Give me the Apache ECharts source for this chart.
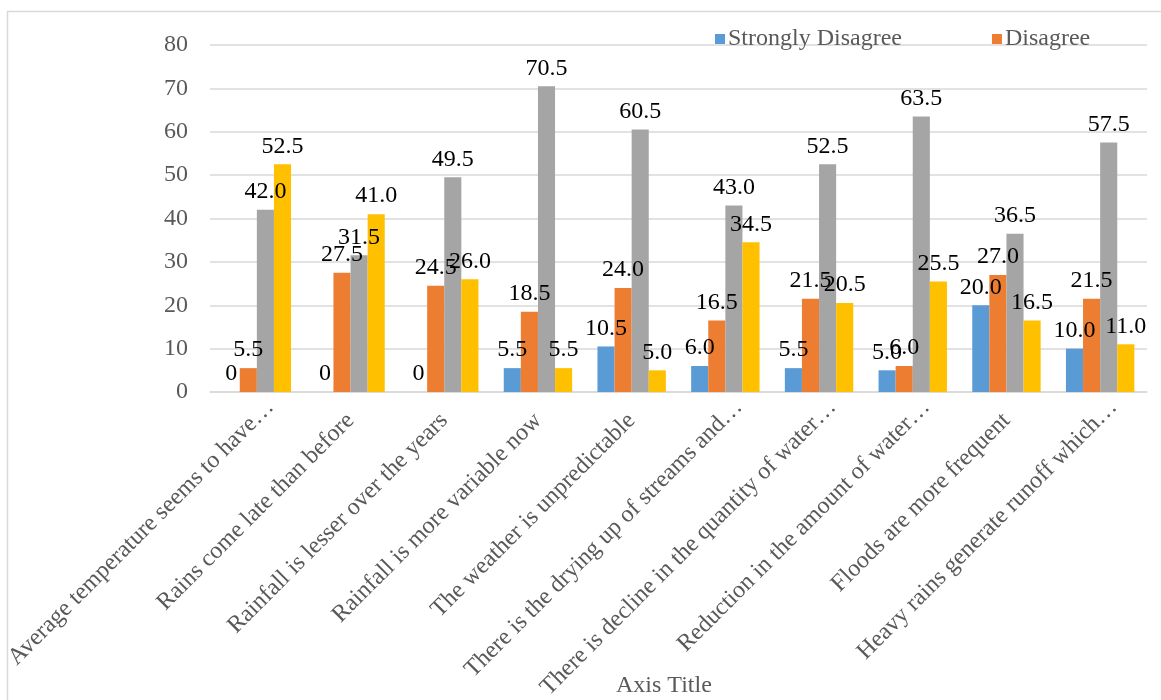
<!DOCTYPE html>
<html>
<head>
<meta charset="utf-8">
<script src="https://cdn.jsdelivr.net/npm/echarts@6/dist/echarts.min.js"></script>
<style>html,body{margin:0;padding:0;background:#fff;}#c{width:1161px;height:700px;}</style>
</head>
<body>
<div id="c"></div>
<script>
const categories = [
  "Average temperature seems to have\u2026",
  "Rains come late than before",
  "Rainfall is lesser over the years",
  "Rainfall is more variable now",
  "The weather is unpredictable",
  "There is the drying up of streams and\u2026",
  "There is decline in the quantity of water\u2026",
  "Reduction in the amount of water\u2026",
  "Floods are more frequent",
  "Heavy rains generate runoff which\u2026"
];
const seriesNames = ["Strongly Disagree", "Disagree", "Agree", "Strongly Agree"];
const stronglyDisagree = [0, 0, 0, 5.5, 10.5, 6.0, 5.5, 5.0, 20.0, 10.0];
const disagree = [5.5, 27.5, 24.5, 18.5, 24.0, 16.5, 21.5, 6.0, 27.0, 21.5];
const agree = [42.0, 31.5, 49.5, 70.5, 60.5, 43.0, 52.5, 63.5, 36.5, 57.5];
const stronglyAgree = [52.5, 41.0, 26.0, 5.5, 5.0, 34.5, 20.5, 25.5, 16.5, 11.0];
const yTicks = [0, 10, 20, 30, 40, 50, 60, 70, 80];

const colors = ["#5B9BD5", "#ED7D31", "#A5A5A5", "#FFC000"];
const font = "'Liberation Serif', 'Times New Roman', serif";
const allData = [stronglyDisagree, disagree, agree, stronglyAgree];
const labelStyle = {fontFamily: font, fontSize: 24, color: '#595959'};

const chart = echarts.init(document.getElementById('c'), null, {renderer: 'canvas'});
chart.setOption({
  animation: false,
  color: colors,
  textStyle: {fontFamily: font},
  graphic: [
    {type: 'rect', shape: {x: 7.5, y: 11.5, width: 1170, height: 720}, style: {fill: 'none', stroke: '#d9d9d9', lineWidth: 1.5}, silent: true},
    {type: 'text', left: 616, top: 674, style: {text: 'Axis Title', fontFamily: font, fontSize: 24, fill: '#595959'}}
  ],
  legend: {
    data: [seriesNames[0], seriesNames[1]],
    left: 710, top: 22,
    icon: 'rect', itemWidth: 10, itemHeight: 10, itemGap: 90,
    textStyle: {fontFamily: font, fontSize: 24, color: '#595959', padding: [0, 0, 0, -2]}
  },
  grid: {left: 210, right: 14, top: 45, bottom: 308, containLabel: false, outerBoundsMode: 'none'},
  xAxis: {
    type: 'category',
    data: categories,
    axisLine: {show: true, lineStyle: {color: '#d9d9d9', width: 1.5}},
    axisTick: {show: false},
    axisLabel: {
      interval: 0, rotate: 45, margin: 25,
      fontFamily: font, fontSize: 24, color: '#595959',
      formatter: v => v.endsWith('\u2026') ? '{t|' + v.slice(0, -1) + '}{e|\u2026}' : '{t|' + v + '}',
      rich: {
        t: Object.assign({}, labelStyle),
        e: Object.assign({padding: [0, -19, 0, 0]}, labelStyle)
      }
    }
  },
  yAxis: {
    type: 'value', min: yTicks[0], max: yTicks[yTicks.length - 1], interval: 10,
    axisLine: {show: false}, axisTick: {show: false},
    splitLine: {lineStyle: {color: '#d9d9d9', width: 1.5}},
    axisLabel: {margin: 22, fontFamily: font, fontSize: 24, color: '#595959'}
  },
  series: allData.map((d, i) => ({
    name: seriesNames[i],
    type: 'bar',
    data: d,
    barGap: '0%',
    barCategoryGap: '27%',
    itemStyle: {color: colors[i]},
    label: {
      show: true, position: 'top', distance: 6,
      fontFamily: font, fontSize: 24, color: '#000',
      formatter: p => p.value === 0 ? '0' : p.value.toFixed(1)
    }
  }))
});
</script>
</body>
</html>
